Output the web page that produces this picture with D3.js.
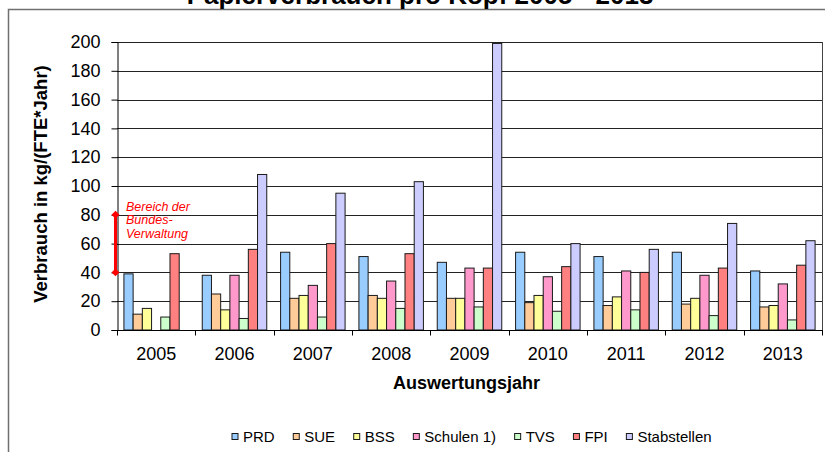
<!DOCTYPE html>
<html>
<head>
<meta charset="utf-8">
<script src="https://cdn.jsdelivr.net/npm/d3@7"></script>
<style>
  body { margin: 0; background: #fff; }
  svg { display: block; font-family: "Liberation Sans", Arial, sans-serif; }
</style>
</head>
<body>
<div id="chart"></div>
<script>
// Papierverbrauch pro Kopf, kg/(FTE*Jahr)
const years = ['2005', '2006', '2007', '2008', '2009', '2010', '2011', '2012', '2013']
const seriesNames = ['PRD', 'SUE', 'BSS', 'Schulen 1)', 'TVS', 'FPI', 'Stabstellen']
const seriesColors = ['#99ccff', '#ffcc99', '#ffff99', '#ff99cc', '#ccffcc', '#ff8080', '#ccccff']

const prd = [39, 38, 54, 51, 47, 54, 51, 54, 41]
const sue = [11, 25, 22, 24, 22, 19, 17, 18, 16]
const bss = [15, 14, 24, 22, 22, 24, 23, 22, 17]
const schulen = [null, 38, 31, 34, 43, 37, 41, 38, 32]
const tvs = [9, 8, 9, 15, 16, 13, 14, 10, 7]
const fpi = [53, 56, 60, 53, 43, 44, 40, 43, 45]
const stabstellen = [null, 108, 95, 103, 199, 60, 56, 74, 62]

const yTicks = [0, 20, 40, 60, 80, 100, 120, 140, 160, 180, 200]
const bundesRange = [40, 80]
const bundesLabel = ['Bereich der', 'Bundes-', 'Verwaltung']

const allSeries = [prd, sue, bss, schulen, tvs, fpi, stabstellen]

const width = 825, height = 452
const plotL = 117, plotR = 822, plotT = 42, plotB = 330

const svg = d3.select('#chart')
  .append('svg')
  .attr('width', width)
  .attr('height', height)

// chart frame (cut off at right and bottom)
svg.append('rect')
  .attr('x', 8.5)
  .attr('y', 9.5)
  .attr('width', 830)
  .attr('height', 460)
  .attr('fill', 'none')
  .attr('stroke', '#707070')
  .attr('stroke-width', 1.5)

// title
svg.append('text')
  .attr('x', 420)
  .attr('y', 4)
  .attr('text-anchor', 'middle')
  .style('font-size', '26px')
  .style('font-weight', 'bold')
  .text('Papierverbrauch pro Kopf 2005 - 2013')

const xScale = d3.scaleBand()
  .domain(years)
  .range([plotL, plotR])
  .padding(0)

const inner = d3.scaleBand()
  .domain(d3.range(seriesNames.length))
  .range([0, xScale.bandwidth()])
  .paddingInner(0)
  .paddingOuter(0.75)

const yScale = d3.scaleLinear()
  .domain([0, 200])
  .range([plotB, plotT])

// gridlines
svg.append('g')
  .selectAll('line')
  .data(yTicks.filter(d => d > 0))
  .join('line')
  .attr('x1', plotL)
  .attr('x2', plotR)
  .attr('y1', d => Math.round(yScale(d)) + 0.5)
  .attr('y2', d => Math.round(yScale(d)) + 0.5)
  .attr('stroke', '#222')
  .attr('stroke-width', 1)

// plot right edge
svg.append('line')
  .attr('x1', plotR + 0.5)
  .attr('x2', plotR + 0.5)
  .attr('y1', plotT)
  .attr('y2', plotB)
  .attr('stroke', '#444')

// bars
for (let s = 0; s < allSeries.length; s++) {
  const values = allSeries[s]
  svg.append('g')
    .selectAll('rect')
    .data(years.map((y, i) => ({ year: y, v: values[i] })).filter(d => d.v != null))
    .join('rect')
    .attr('x', d => xScale(d.year) + inner(s))
    .attr('y', d => yScale(d.v))
    .attr('width', inner.bandwidth())
    .attr('height', d => plotB - yScale(d.v))
    .attr('fill', seriesColors[s])
    .attr('stroke', '#1a1a1a')
    .attr('stroke-width', 1)
}

// y axis
const yAxis = svg.append('g')
  .attr('transform', 'translate(' + (plotL + 0.5) + ',0)')
  .call(d3.axisLeft(yScale).tickValues(yTicks).tickSize(6).tickPadding(11))
yAxis.select('.domain').attr('stroke', '#000')
yAxis.selectAll('.tick line').attr('stroke', '#000')
yAxis.selectAll('text')
  .style('font-size', '18px')
  .attr('fill', '#000')
yAxis.attr('font-family', null).attr('font-size', null)

// x axis with ticks between categories
const xAxis = svg.append('g')
  .attr('transform', 'translate(0,' + (plotB + 0.5) + ')')
xAxis.append('line')
  .attr('x1', plotL)
  .attr('x2', plotR + 1)
  .attr('stroke', '#000')
xAxis.selectAll('line.tk')
  .data(years.concat(['end']))
  .join('line')
  .attr('class', 'tk')
  .attr('x1', (d, i) => Math.round(plotL + i * xScale.step()) + 0.5)
  .attr('x2', (d, i) => Math.round(plotL + i * xScale.step()) + 0.5)
  .attr('y1', 0)
  .attr('y2', 5)
  .attr('stroke', '#000')
xAxis.selectAll('text')
  .data(years)
  .join('text')
  .attr('x', d => xScale(d) + xScale.bandwidth() / 2)
  .attr('y', 29)
  .attr('text-anchor', 'middle')
  .style('font-size', '18px')
  .text(d => d)

// axis titles
svg.append('text')
  .attr('x', (plotL + plotR) / 2 - 3)
  .attr('y', 389)
  .attr('text-anchor', 'middle')
  .style('font-size', '18px')
  .style('font-weight', 'bold')
  .text('Auswertungsjahr')

svg.append('text')
  .attr('transform', 'translate(46.5,' + ((plotT + plotB) / 2 - 2) + ') rotate(-90)')
  .attr('text-anchor', 'middle')
  .style('font-size', '18.5px')
  .style('font-weight', 'bold')
  .text('Verbrauch in kg/(FTE*Jahr)')

// red range marker for Bundesverwaltung
const ax = 115.5
svg.append('line')
  .attr('x1', ax)
  .attr('x2', ax)
  .attr('y1', yScale(bundesRange[0]))
  .attr('y2', yScale(bundesRange[1]))
  .attr('stroke', '#ff0000')
  .attr('stroke-width', 3)
svg.selectAll('path.dia')
  .data(bundesRange)
  .join('path')
  .attr('class', 'dia')
  .attr('d', d3.symbol().type(d3.symbolDiamond2).size(40))
  .attr('transform', d => 'translate(' + ax + ',' + yScale(d) + ')')
  .attr('fill', '#ff0000')
svg.append('text')
  .attr('fill', '#ff0000')
  .style('font-size', '12.5px')
  .style('font-style', 'italic')
  .selectAll('tspan')
  .data(bundesLabel)
  .join('tspan')
  .attr('x', 126)
  .attr('y', (d, i) => 210.5 + i * 13.5)
  .text(d => d)

// legend
const legend = svg.append('g')
let lx = 231.5
seriesNames.forEach((name, i) => {
  const g = legend.append('g').attr('transform', 'translate(' + lx + ',0)')
  g.append('rect')
    .attr('x', 0.5)
    .attr('y', 433.5)
    .attr('width', 6)
    .attr('height', 6)
    .attr('fill', seriesColors[i])
    .attr('stroke', '#1a1a1a')
  const t = g.append('text')
    .attr('x', 11.5)
    .attr('y', 442)
    .style('font-size', '15px')
    .text(name)
  lx += t.node().getComputedTextLength() + 29.6
})
</script>
</body>
</html>
